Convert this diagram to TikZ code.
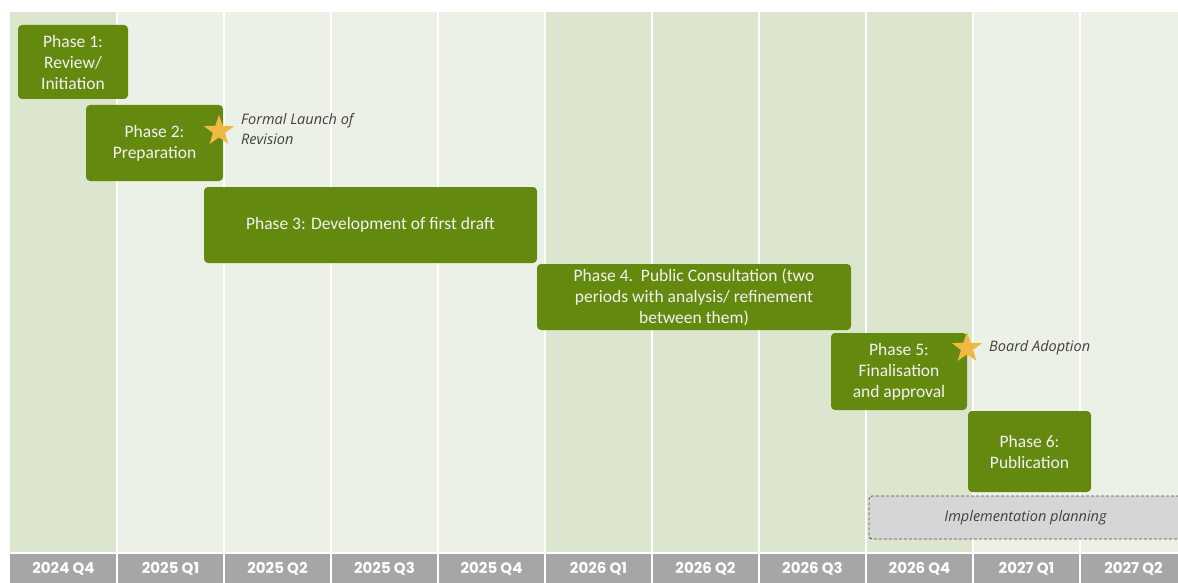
\documentclass[tikz,border=0pt]{standalone}
\usepackage{fontspec}
\setmainfont{Carlito}
\newfontfamily\axisfont{Poppins}
\newfontfamily\notefont{Open Sans}
\usetikzlibrary{shapes.geometric}
\definecolor{darkcol}{RGB}{220,230,207}
\definecolor{lightcol}{RGB}{235,241,230}
\definecolor{axisgrey}{RGB}{166,166,166}
\definecolor{phasegreen}{RGB}{100,137,15}
\definecolor{stargold}{RGB}{240,186,66}
\definecolor{notegrey}{RGB}{64,64,64}
\definecolor{implgrey}{RGB}{214,214,214}
\definecolor{impledge}{RGB}{80,80,80}
\tikzset{
  phase/.style={draw=none, fill=phasegreen, rounded corners=4pt, text=white!95!black,
    font=\fontsize{17.5}{21}\selectfont, align=center, inner sep=0pt},
  starmark/.style={star, star points=5, star point ratio=2.5, fill=stargold, draw=none,
    minimum size=32pt, inner sep=0pt},
  note/.style={font=\notefont\itshape\fontsize{14.5}{20}\selectfont, text=notegrey, align=left, inner sep=0pt},
  axislabel/.style={font=\axisfont\bfseries\fontsize{15}{16}\selectfont, text=white, inner sep=0pt},
  impl/.style={draw=impledge, line width=0.9pt, dash pattern=on 3pt off 2pt, fill=implgrey, rounded corners=3pt,
    font=\notefont\itshape\fontsize{14.5}{16}\selectfont, text=notegrey, inner sep=0pt}
}
\begin{document}
\begin{tikzpicture}[x=1pt,y=-1pt]
\useasboundingbox[fill=white] (0,0) rectangle (1178,583);
% columns
\foreach \i/\c in {0/darkcol,1/lightcol,2/lightcol,3/lightcol,4/lightcol,5/darkcol,6/darkcol,7/darkcol,8/darkcol,9/lightcol,10/lightcol}{
  \fill[\c] ({10+107*\i},12) rectangle ({10+107*(\i+1)},552);
  \fill[axisgrey] ({10+107*\i},553) rectangle ({10+107*(\i+1)},583);
}
\foreach \i in {1,...,10}{
  \draw[white, line width=2pt] ({10+107*\i},12) -- ({10+107*\i},583);
}
\draw[white, line width=2pt] (10,552.5) -- (1178,552.5);
% axis labels
\foreach \i/\t in {0/2024 Q4,1/2025 Q1,2/2025 Q2,3/2025 Q3,4/2025 Q4,5/2026 Q1,6/2026 Q2,7/2026 Q3,8/2026 Q4,9/2027 Q1,10/2027 Q2}{
  \node[axislabel] (ax\i) at ({10+107*\i+53.5},569) {\t};
}
% phases
\node[phase, minimum width=110pt, minimum height=74pt] (p1) at (73,62) {Phase 1:\\Review/\\Initiation};
\node[phase, minimum width=137pt, minimum height=76pt] (p2) at (154.5,143) {Phase 2:\\Preparation};
\node[phase, minimum width=333pt, minimum height=76pt] (p3) at (370.5,225) {Phase 3: Development of first draft};
\node[phase, minimum width=314pt, minimum height=66pt] (p4) at (694,297) {Phase 4.\ \ Public Consultation (two\\periods with analysis/ refinement\\between them)};
\node[phase, minimum width=136pt, minimum height=77pt] (p5) at (899,371.5) {Phase 5:\\Finalisation\\and approval};
\node[phase, minimum width=123pt, minimum height=81pt] (p6) at (1029.5,451.5) {Phase 6:\\Publication};
\node[impl, minimum width=313pt, minimum height=43pt] (impl) at (1025.5,517.5) {Implementation planning};
% milestones
\node[starmark] (s1) at (219,131) {};
\node[starmark] (s2) at (967,348) {};
\node[note, anchor=west] (n1) at (241,129) {Formal Launch of\\Revision};
\node[note, anchor=west] (n2) at (989,348) {Board Adoption};
\end{tikzpicture}
\end{document}
